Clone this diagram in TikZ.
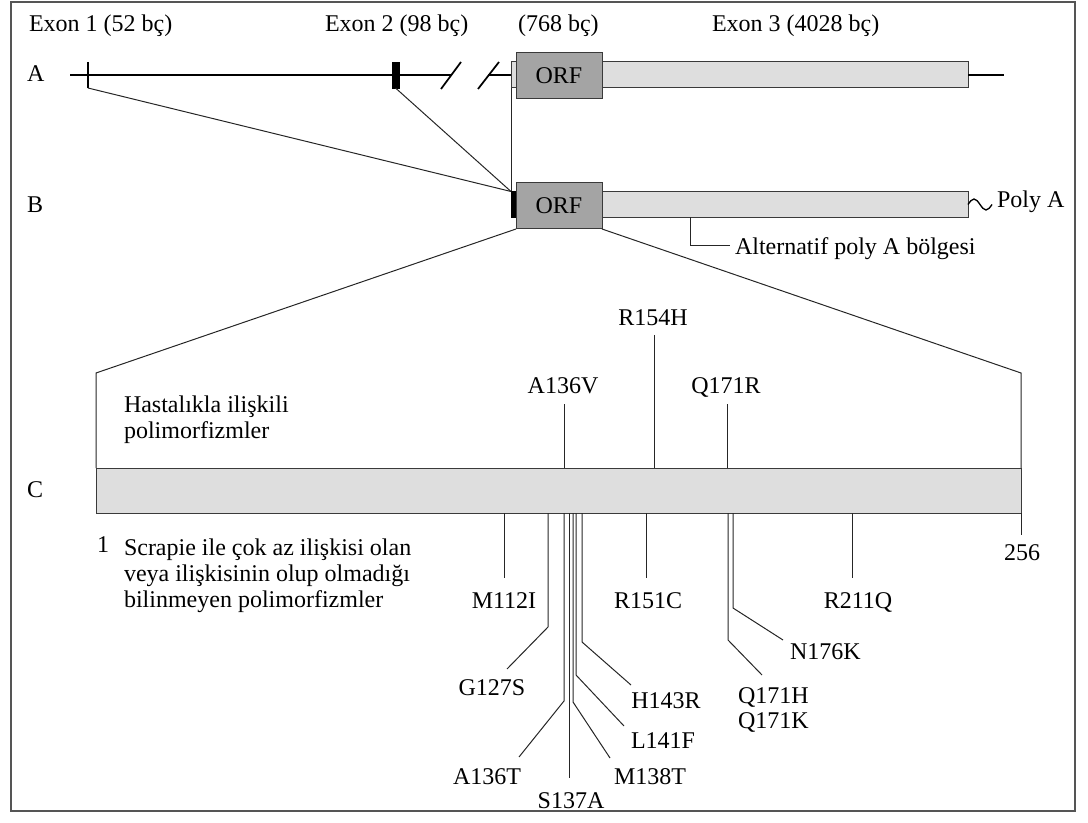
\documentclass[tikz,border=0pt]{standalone}
\usepackage{fontspec}
\setmainfont{Liberation Serif}
\definecolor{orfgray}{HTML}{A4A4A4}
\definecolor{lightfill}{HTML}{DEDEDE}
\definecolor{framegray}{HTML}{555555}
\definecolor{edgegray}{HTML}{3A3A3A}
\begin{document}
\begin{tikzpicture}[x=0.75pt,y=-0.75pt,
  every node/.style={font=\fontsize{18}{19.5}\selectfont, inner sep=0pt, outer sep=0pt},
  conn/.style={line width=0.75pt, draw=black!85},
  mainline/.style={line width=1.3pt, draw=black},
  boxshape/.style={draw=edgegray, line width=0.75pt},
  orfbox/.style={boxshape, fill=orfgray, minimum width=64.5pt, minimum height=34.5pt},
  exonbox/.style={boxshape, fill=lightfill, minimum width=274.5pt, minimum height=19.5pt},
  blackbar/.style={fill=black, draw=black, line width=0.3pt, minimum height=19.5pt},
  lbl/.style={anchor=base},
  lblw/.style={anchor=base west}
]
\useasboundingbox (0,0) rectangle (1088,823);
\draw[framegray, line width=1.6pt] (11,2) rectangle (1075,811);

% top labels
\node[lblw] (t1) at (29,32) {Exon 1 (52 bç)};
\node[lblw] (t2) at (325,32) {Exon 2 (98 bç)};
\node[lblw] (t3) at (518,32) {(768 bç)};
\node[lblw] (t4) at (712,32) {Exon 3 (4028 bç)};

% row labels
\node[lblw] (rA) at (27,82) {A};
\node[lblw] (rB) at (27,213) {B};
\node[lblw] (rC) at (27,497) {C};

% ---- row A ----
\coordinate (lstart) at (70,75);
\coordinate (brk1) at (451,75);
\coordinate (brk2) at (488,75);
\coordinate (lend) at (1004,75);
\coordinate (s1a) at (441,89); \coordinate (s1b) at (461,62);
\coordinate (s2a) at (478,89); \coordinate (s2b) at (499,62);
\coordinate (ex1top) at (88,62); \coordinate (ex1) at (88,88);

\node[exonbox, anchor=west] (exA) at (602,75) {};
\node[boxshape, fill=lightfill, minimum width=3.75pt, minimum height=19.5pt, anchor=east] (utrA) at (516,75) {};
\draw[mainline] (lstart) -- (brk1);
\draw[mainline] (brk2) -- (utrA.west);
\draw[mainline] (exA.east) -- (lend);
\draw[mainline] (s1a) -- (s1b);
\draw[mainline] (s2a) -- (s2b);
\draw[mainline] (ex1top) -- (ex1);
\node[blackbar, minimum width=5.25pt] (ex2) at (395.5,75) {};
\node[orfbox] (orfA) at (559,76) {ORF};

% ---- row B ----
\node[exonbox, anchor=west] (exB) at (602,204.5) {};
\node[blackbar, minimum width=3.75pt, anchor=east] (barB) at (516,204.5) {};
\node[orfbox] (orfB) at (559,206) {ORF};

\draw[conn] (ex1) -- (barB.north west);
\draw[conn] (ex2.south) -- (barB.north west);
\draw[conn] (utrA.south west) -- (barB.north west);

% poly A
\draw[line width=1pt] (exB.east) sin ++(6,-5.5) cos ++(6,5.5) sin ++(6,5.5) cos ++(6,-5.5);
\node[lblw] (polyA) at (997,208) {Poly A};

% alternatif poly A
\node[lblw] (altL) at (735,255) {Alternatif poly A bölgesi};
\coordinate (altK) at (690,246);
\draw[conn] (altK |- exB.south) -- (altK) -- ([xshift=-4pt]altL.west |- altK);

% ---- row C ----
\node[boxshape, fill=lightfill, minimum width=693.75pt, minimum height=33.75pt, anchor=north west] (C) at (96,468) {};
\coordinate (kL) at (96,373);
\coordinate (kR) at (1021,373);
\draw[conn] (orfB.south west) -- (kL) -- (C.north west);
\draw[conn] (orfB.south east) -- (kR) -- (C.north east);

\node[lblw] (h1) at (124,412) {Hastalıkla ilişkili};
\node[lblw] (h2) at (124,438) {polimorfizmler};

\node[lblw] (one) at (97,552) {1};
\node[lblw] (sc1) at (124,555) {Scrapie ile çok az ilişkisi olan};
\node[lblw] (sc2) at (124,581) {veya ilişkisinin olup olmadığı};
\node[lblw] (sc3) at (124,607) {bilinmeyen polimorfizmler};

% disease-associated (above)
\node[lbl] (A136V) at (563,393) {A136V};
\node[lbl] (R154H) at (653,326) {R154H};
\node[lbl] (Q171R) at (726,393) {Q171R};
\coordinate (uA136V) at (564,404);
\coordinate (uR154H) at (654,335);
\coordinate (uQ171R) at (727,404);
\draw[conn] (uA136V) -- (uA136V |- C.north);
\draw[conn] (uR154H) -- (uR154H |- C.north);
\draw[conn] (uQ171R) -- (uQ171R |- C.north);

% end marker 256
\coordinate (k256) at (1021,535);
\draw[conn] (k256 |- C.south) -- (k256);
\node[lbl] (n256) at (1022,560) {256};

% other polymorphisms (below)
\coordinate (kM112) at (504,578);
\draw[conn] (kM112 |- C.south) -- (kM112);
\node[lbl] (M112I) at (504,608) {M112I};

\coordinate (kR151) at (646,578);
\draw[conn] (kR151 |- C.south) -- (kR151);
\node[lbl] (R151C) at (648,608) {R151C};

\coordinate (kR211) at (852,578);
\draw[conn] (kR211 |- C.south) -- (kR211);
\node[lbl] (R211Q) at (858,608) {R211Q};

\coordinate (bG127) at (548,627); \coordinate (eG127) at (507,669);
\draw[conn] (bG127 |- C.south) -- (bG127) -- (eG127);
\node[lbl] (G127S) at (492,695) {G127S};

\coordinate (bA136) at (564,701); \coordinate (eA136) at (519,757);
\draw[conn] (bA136 |- C.south) -- (bA136) -- (eA136);
\node[lbl] (A136T) at (487,784) {A136T};

\coordinate (kS137) at (569,778);
\draw[conn] (kS137 |- C.south) -- (kS137);
\node[lbl] (S137A) at (571,808) {S137A};

\coordinate (bM138) at (573,702); \coordinate (eM138) at (610,758);
\draw[conn] (bM138 |- C.south) -- (bM138) -- (eM138);
\node[lbl] (M138T) at (650,784) {M138T};

\coordinate (bL141) at (576,675); \coordinate (eL141) at (624,726);
\draw[conn] (bL141 |- C.south) -- (bL141) -- (eL141);
\node[lbl] (L141F) at (663,748) {L141F};

\coordinate (bH143) at (582,642); \coordinate (eH143) at (631,685);
\draw[conn] (bH143 |- C.south) -- (bH143) -- (eH143);
\node[lbl] (H143R) at (666,708) {H143R};

\coordinate (bQ171) at (728,640); \coordinate (eQ171) at (762,675);
\draw[conn] (bQ171 |- C.south) -- (bQ171) -- (eQ171);
\node[lblw] (Q171H) at (738,703) {Q171H};
\node[lblw] (Q171K) at (738,728) {Q171K};

\coordinate (bN176) at (733,608); \coordinate (eN176) at (783,640);
\draw[conn] (bN176 |- C.south) -- (bN176) -- (eN176);
\node[lblw] (N176K) at (790,659) {N176K};
\end{tikzpicture}
\end{document}
